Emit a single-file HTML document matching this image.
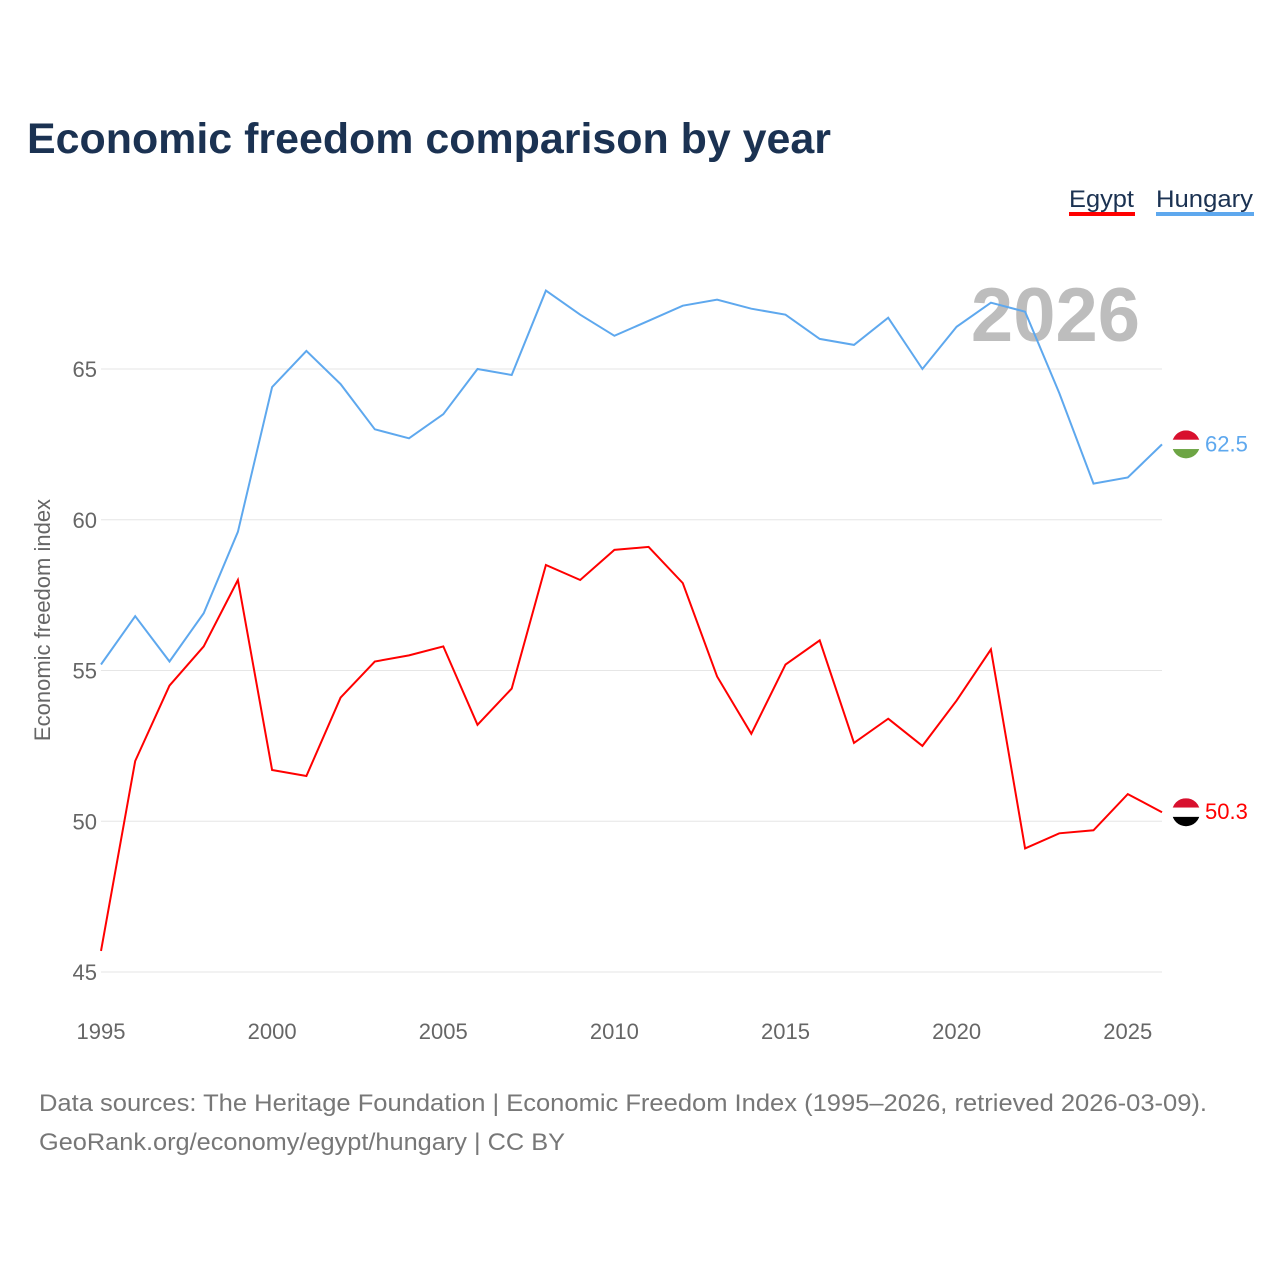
<!DOCTYPE html>
<html><head><meta charset="utf-8">
<style>
body{margin:0;background:#fff;font-family:"Liberation Sans",sans-serif;}
#wrap{position:relative;width:1280px;height:1280px;overflow:hidden;}
</style></head>
<body>
<div id="wrap">
<svg id="chart" width="1280" height="1280"></svg>
</div>
<script>
const years = [1995,1996,1997,1998,1999,2000,2001,2002,2003,2004,2005,2006,2007,2008,2009,2010,2011,2012,2013,2014,2015,2016,2017,2018,2019,2020,2021,2022,2023,2024,2025,2026];
const hungary = [55.2,56.8,55.3,56.9,59.6,64.4,65.6,64.5,63.0,62.7,63.5,65.0,64.8,67.6,66.8,66.1,66.6,67.1,67.3,67.0,66.8,66.0,65.8,66.7,65.0,66.4,67.2,66.9,64.2,61.2,61.4,62.5];
const egypt = [45.7,52.0,54.5,55.8,58.0,51.7,51.5,54.1,55.3,55.5,55.8,53.2,54.4,58.5,58.0,59.0,59.1,57.9,54.8,52.9,55.2,56.0,52.6,53.4,52.5,54.0,55.7,49.1,49.6,49.7,50.9,50.3];
const yTicks = [45,50,55,60,65];
const xTicks = [1995,2000,2005,2010,2015,2020,2025];

const NS="http://www.w3.org/2000/svg";
const svg=document.getElementById('chart');
const X0=101,X1=1162;
function x(v){return X0+(v-1995)*(X1-X0)/(2026-1995);}
function y(v){return 972-(v-45)*(972-369)/20;}
function mk(tag,attrs,text){const e=document.createElementNS(NS,tag);for(const k in attrs)e.setAttribute(k,attrs[k]);if(text!==undefined)e.textContent=text;svg.appendChild(e);return e;}
const F='"Liberation Sans",sans-serif';

let t=mk('text',{x:27,y:153,'font-size':43,'font-weight':'bold',fill:'#1b3252','font-family':F,textLength:804,lengthAdjust:'spacingAndGlyphs'},'Economic freedom comparison by year');



yTicks.forEach(v=>{
  let g=mk('line',{x1:X0,x2:X1,y1:y(v),y2:y(v),stroke:'#e6e6e6','stroke-width':1});
  
  
  let l=mk('text',{x:97,y:y(v)+8,'text-anchor':'end','font-size':22,fill:'#666','font-family':F},String(v));
  
  
});
xTicks.forEach(v=>{
  let l=mk('text',{x:x(v),y:1039,'text-anchor':'middle','font-size':22,fill:'#666','font-family':F},String(v));
  
  
});
let yt=mk('text',{x:0,y:0,transform:'translate(50,620) rotate(-90)','text-anchor':'middle','font-size':22,fill:'#666','font-family':F},'Economic freedom index');



let yr=mk('text',{x:1140,y:341,'text-anchor':'end','font-size':76,'font-weight':'bold',fill:'#bdbdbd','font-family':F},'2026');



function line(data,color,name){
  const d=data.map((v,i)=>(i?'L':'M')+x(years[i]).toFixed(1)+','+y(v).toFixed(1)).join(' ');
  let p=mk('path',{d:d,fill:'none',stroke:color,'stroke-width':2});
  
  
}
line(hungary,'#5ea8ee','hungary-line');
line(egypt,'#ff0000','egypt-line');

function flag(cy,cols,name){
  const cx=1186,r=14;
  const defs=mk('clipPath',{id:'c'+name});
  const c=document.createElementNS(NS,'circle');c.setAttribute('cx',cx);c.setAttribute('cy',cy);c.setAttribute('r',r);defs.appendChild(c);
  cols.forEach((col,i)=>{
    let rr=mk('rect',{x:cx-r,y:cy-r+i*2*r/3,width:2*r,height:2*r/3+0.5,fill:col,'clip-path':'url(#c'+name+')'});
    
    
  });
}
const hl=hungary[hungary.length-1], el=egypt[egypt.length-1];
flag(y(hl),['#d8102e','#ffffff','#6da544'],'hungary-flag');
flag(y(el),['#d8102e','#ffffff','#000000'],'egypt-flag');
let hv=mk('text',{x:1205,y:y(hl)+7,'font-size':22,fill:'#5ea8ee','font-family':F},hl.toFixed(1));


let ev=mk('text',{x:1205,y:y(el)+7,'font-size':22,fill:'#ff0000','font-family':F},el.toFixed(1));



let le=mk('text',{x:1069,y:207,'font-size':24,fill:'#1b3252','font-family':F,textLength:65,lengthAdjust:'spacingAndGlyphs'},'Egypt');


let lel=mk('rect',{x:1069,y:212,width:66,height:4,fill:'#ff0000'});


let lh=mk('text',{x:1156,y:207,'font-size':24,fill:'#1b3252','font-family':F,textLength:97,lengthAdjust:'spacingAndGlyphs'},'Hungary');


let lhl=mk('rect',{x:1156,y:212,width:98,height:4,fill:'#5ea8ee'});



let s1=mk('text',{x:39,y:1111,'font-size':24,fill:'#777','font-family':F,textLength:1168,lengthAdjust:'spacingAndGlyphs'},'Data sources: The Heritage Foundation | Economic Freedom Index (1995–2026, retrieved 2026-03-09).');


let s2=mk('text',{x:39,y:1150,'font-size':24,fill:'#777','font-family':F,textLength:526,lengthAdjust:'spacingAndGlyphs'},'GeoRank.org/economy/egypt/hungary | CC BY');


</script>
</body></html>
